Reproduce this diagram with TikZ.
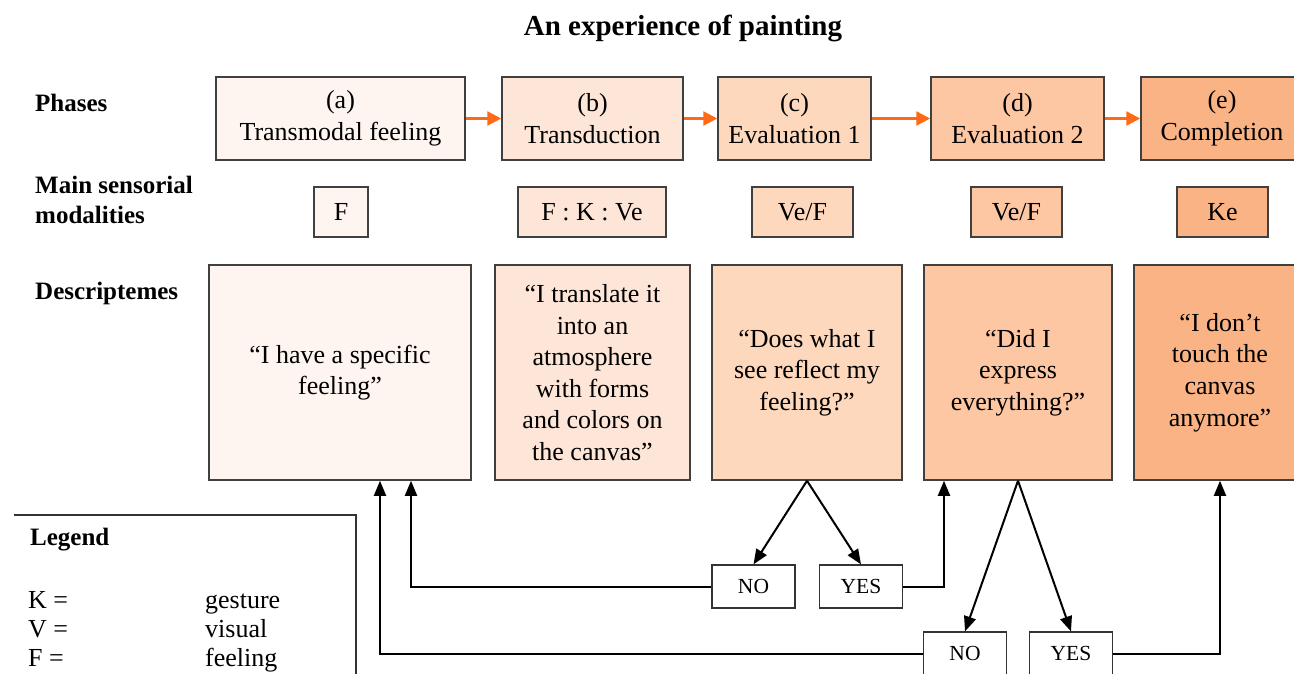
\documentclass[tikz,border=0pt]{standalone}
\usepackage{fontspec}
\setmainfont{Liberation Serif}
\usetikzlibrary{arrows.meta}
\definecolor{shadeA}{HTML}{FEF5F0}
\definecolor{shadeB}{HTML}{FDE5D7}
\definecolor{shadeC}{HTML}{FDD8BD}
\definecolor{shadeD}{HTML}{FCC7A2}
\definecolor{shadeE}{HTML}{FAB384}
\definecolor{flowcol}{HTML}{FF6A17}
\begin{document}
\begin{tikzpicture}[x=1pt, y=-1pt,
    every node/.style={font=\fontsize{26}{31.6}\selectfont},
    box/.style={draw=black!75, line width=1.5pt, inner sep=0pt, align=center},
    phase/.style={box, minimum height=83pt},
    modal/.style={box, minimum height=50pt},
    desc/.style={box, minimum height=215pt},
    answer/.style={draw=black!80, line width=1.2pt, fill=white, minimum width=83pt, minimum height=43pt, inner sep=0pt, font=\fontsize{21.5}{24}\selectfont},
    rowlabel/.style={anchor=west, align=left, inner sep=0pt, font=\bfseries\fontsize{25}{30}\selectfont},
    flow/.style={-{Triangle[length=14pt,width=14pt]}, draw=flowcol, line width=2.5pt},
    back/.style={-{Triangle[length=15pt,width=12pt]}, line width=2pt}]
        \clip (0, 0) rectangle (1294, 673);
        \node[font=\bfseries\fontsize{29}{34}\selectfont] (title) at (683, 28) {An experience of painting};

        \node[rowlabel] (lphase) at (35, 103) {Phases};
        \node[rowlabel] (lmodal) at (35, 200) {Main sensorial\\modalities};
        \node[rowlabel] (ldesc) at (35, 293) {Descriptemes};

        \node[phase, fill=shadeA, minimum width=249pt] (PA) at (340.5, 118.5) {(a)\\Transmodal feeling};
        \node[phase, fill=shadeB, minimum width=181pt] (PB) at (592.5, 118.5) {(b)\\Transduction};
        \node[phase, fill=shadeC, minimum width=153pt] (PC) at (794.5, 118.5) {(c)\\Evaluation 1};
        \node[phase, fill=shadeD, minimum width=173pt] (PD) at (1017.5, 118.5) {(d)\\Evaluation 2};
        \node[phase, fill=shadeE, minimum width=162pt] (PE) at (1222, 118.5) {(e)\\Completion};

        \node[modal, fill=shadeA, minimum width=54pt] (MA) at (341, 212) {F};
        \node[modal, fill=shadeB, minimum width=148pt] (MB) at (592, 212) {F : K : Ve};
        \node[modal, fill=shadeC, minimum width=101pt] (MC) at (802.5, 212) {Ve/F};
        \node[modal, fill=shadeD, minimum width=91pt] (MD) at (1016.5, 212) {Ve/F};
        \node[modal, fill=shadeE, minimum width=91pt] (ME) at (1222.5, 212) {Ke};

        \node[desc, fill=shadeA, minimum width=262pt] (DA) at (340, 372.5) {“I have a specific\\feeling”};
        \node[desc, fill=shadeB, minimum width=195pt] (DB) at (592.5, 372.5) {“I translate it\\into an\\atmosphere\\with forms\\and colors on\\the canvas”};
        \node[desc, fill=shadeC, minimum width=190pt] (DC) at (807, 372.5) {“Does what I\\see reflect my\\feeling?”};
        \node[desc, fill=shadeD, minimum width=188pt] (DD) at (1018, 372.5) {“Did I\\express\\everything?”};
        \node[desc, fill=shadeE, minimum width=172pt] (DE) at (1220, 372.5) {“I don’t\\touch the\\canvas\\anymore”};

        \node[answer] (NO1) at (753.5, 586.5) {NO};
        \node[answer] (YES1) at (861, 586.5) {YES};
        \node[answer] (NO2) at (965, 653.5) {NO};
        \node[answer] (YES2) at (1071, 653.5) {YES};

        \draw[flow] (PA) -- (PB);
        \draw[flow] (PB) -- (PC);
        \draw[flow] (PC) -- (PD);
        \draw[flow] (PD) -- (PE);

        \draw[back] (DC.south) -- (NO1.north);
        \draw[back] (DC.south) -- (YES1.north);
        \draw[back] (NO1.west) -| ([xshift=71pt]DA.south);
        \draw[back] (YES1.east) -| ([xshift=-74pt]DD.south);
        \draw[back] (DD.south) -- (NO2.north);
        \draw[back] (DD.south) -- (YES2.north);
        \draw[back] (NO2.west) -| ([xshift=40pt]DA.south);
        \draw[back] (YES2.east) -| (DE.south);

        % legend
        \draw[draw=black!80, line width=1.2pt] (14, 515) -- (356, 515) -- (356, 690);
        \node[rowlabel] (legtitle) at (30, 540) {Legend};
        \node[anchor=base west, inner sep=0pt] (legK) at (28, 608) {K =};
        \node[anchor=base west, inner sep=0pt] (legV) at (28, 637) {V =};
        \node[anchor=base west, inner sep=0pt] (legF) at (28, 666) {F =};
        \node[anchor=base west, inner sep=0pt] (legKt) at (205, 608) {gesture};
        \node[anchor=base west, inner sep=0pt] (legVt) at (205, 637) {visual};
        \node[anchor=base west, inner sep=0pt] (legFt) at (205, 666) {feeling};
\end{tikzpicture}
\end{document}
